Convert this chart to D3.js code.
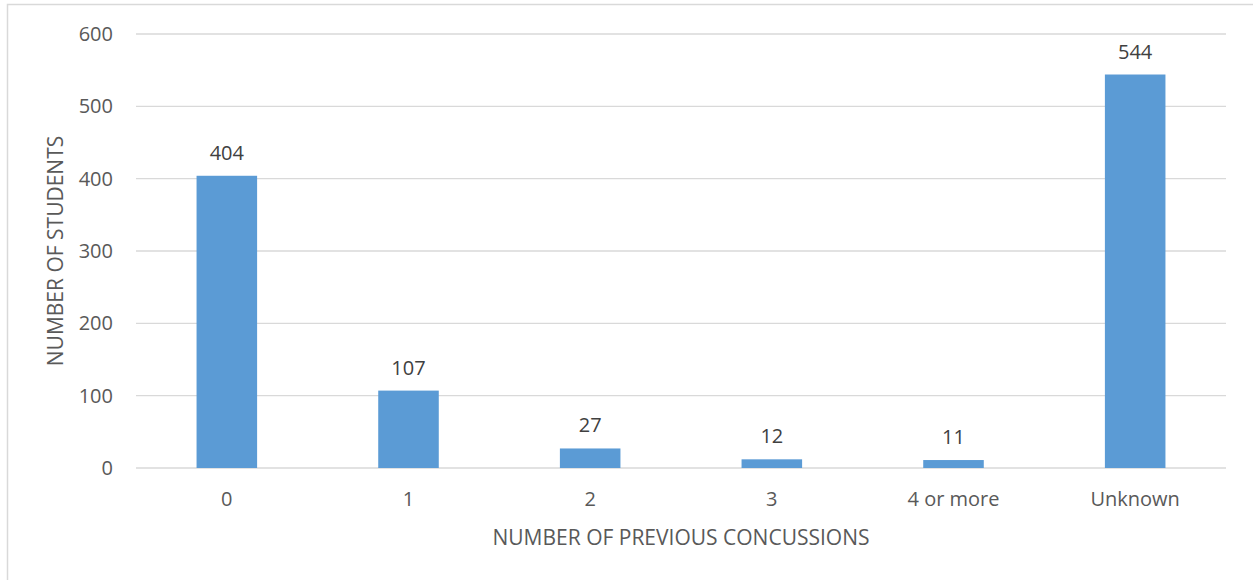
<!DOCTYPE html>
<html>
<head>
  <meta charset="utf-8" />
  <title>Previous concussions</title>
  <style type="text/css">
    html, body { margin: 0; background: #fff; }
    text { font-family: "Open Sans", "Noto Sans", sans-serif; }
  </style>
</head>
<body>
<div id="container"></div>
<script src="https://cdn.jsdelivr.net/npm/d3@7"></script>
<script>
var categories = ["0", "1", "2", "3", "4 or more", "Unknown"];
var students = [404, 107, 27, 12, 11, 544];
var yTicks = [0, 100, 200, 300, 400, 500, 600];

var width = 1253, height = 580;
var plotLeft = 136, plotRight = 1226, plotTop = 34, plotBottom = 468;

var svg = d3.select("#container").append("svg")
    .attr("width", width)
    .attr("height", height);

// chart frame (runs off the right and bottom edges)
svg.append("rect")
    .attr("x", 7.5).attr("y", 4.5)
    .attr("width", width + 10).attr("height", height + 10)
    .attr("fill", "none")
    .attr("stroke", "#d9d9d9")
    .attr("stroke-width", 1.5);

var x = d3.scaleBand().domain(categories).range([plotLeft, plotRight]);
var y = d3.scaleLinear().domain([0, 600]).range([plotBottom, plotTop]);

// gridlines
svg.append("g")
  .selectAll("line")
  .data(yTicks)
  .join("line")
    .attr("x1", plotLeft).attr("x2", plotRight)
    .attr("y1", function(d) { return y(d); })
    .attr("y2", function(d) { return y(d); })
    .attr("stroke", "#d9d9d9")
    .attr("stroke-width", 1.3);

var yAxis = svg.append("g")
    .attr("transform", "translate(" + plotLeft + ",0)")
    .call(d3.axisLeft(y).tickValues(yTicks).tickSize(0).tickPadding(23));
yAxis.select(".domain").remove();
yAxis.selectAll("text")
    .attr("fill", "#595959")
    .style("font-size", "20px");

var xAxis = svg.append("g")
    .attr("transform", "translate(0," + plotBottom + ")")
    .call(d3.axisBottom(x).tickSize(0).tickPadding(24));
xAxis.select(".domain").remove();
xAxis.selectAll("text")
    .attr("fill", "#595959")
    .style("font-size", "20px");

var bw = x.bandwidth() / 3;

svg.append("g")
  .selectAll("rect")
  .data(students)
  .join("rect")
    .attr("x", function(d, i) { return x(categories[i]) + x.bandwidth() / 2 - bw / 2; })
    .attr("y", function(d) { return y(d); })
    .attr("width", bw)
    .attr("height", function(d) { return y(0) - y(d); })
    .attr("fill", "#5b9bd5");

svg.append("g")
  .selectAll("text")
  .data(students)
  .join("text")
    .attr("x", function(d, i) { return x(categories[i]) + x.bandwidth() / 2; })
    .attr("y", function(d) { return y(d) - 16; })
    .attr("text-anchor", "middle")
    .attr("fill", "#404040")
    .style("font-size", "20px")
    .text(function(d) { return d; });

svg.append("text")
    .attr("x", (plotLeft + plotRight) / 2)
    .attr("y", 545)
    .attr("text-anchor", "middle")
    .attr("fill", "#595959")
    .style("font-size", "21px")
    .text("NUMBER OF PREVIOUS CONCUSSIONS");

svg.append("text")
    .attr("transform", "translate(63," + ((plotTop + plotBottom) / 2) + ") rotate(-90)")
    .attr("text-anchor", "middle")
    .attr("fill", "#595959")
    .style("font-size", "21px")
    .text("NUMBER OF STUDENTS");
</script>
</body>
</html>
